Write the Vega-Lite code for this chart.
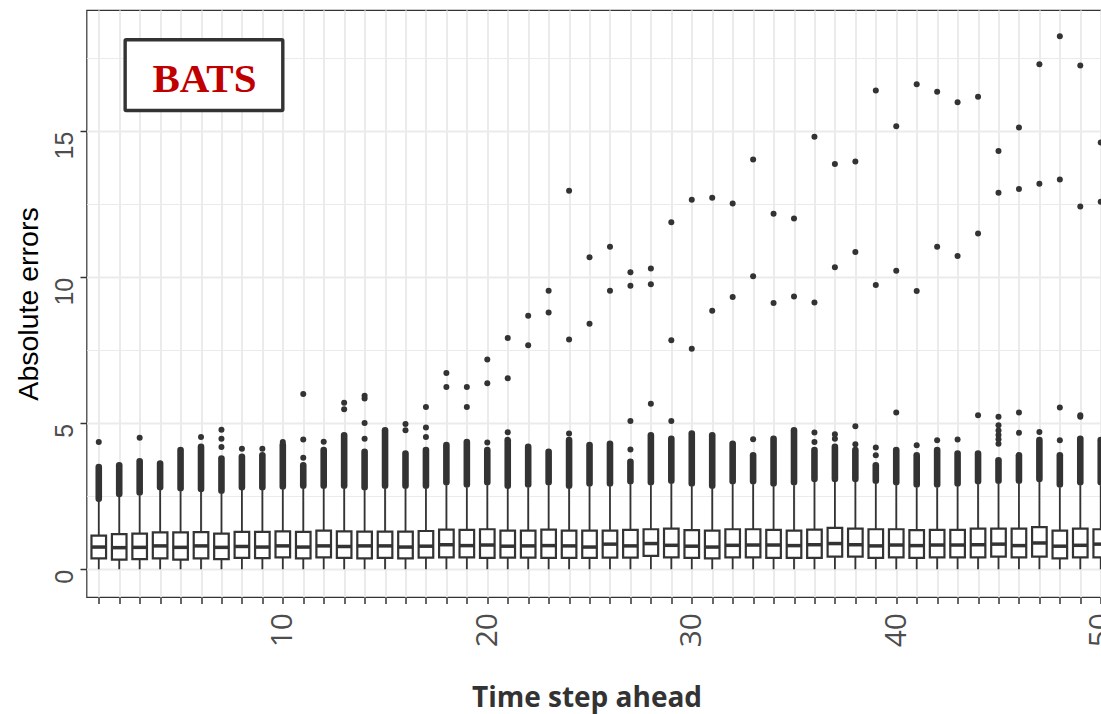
{
  "$schema": "https://vega.github.io/schema/vega-lite/v6.json",
  "autosize": {"type": "none"},
  "padding": {"left": 86.5, "top": 10, "right": -12, "bottom": 117},
  "width": 1026.5,
  "height": 587,
  "background": "white",
  "config": {
    "view": {"stroke": "#333333", "strokeWidth": 1.2},
    "scale": {"continuousPadding": 0}
  },
  "datasets": {
    "boxes": [
      {"step":1,"q1":0.37,"median":0.76,"q3":1.15,"lo":0,"hi":2.31,"olo":2.41,"ohi":3.50},
      {"step":2,"q1":0.33,"median":0.74,"q3":1.20,"lo":0,"hi":2.48,"olo":2.58,"ohi":3.56},
      {"step":3,"q1":0.35,"median":0.75,"q3":1.22,"lo":0,"hi":2.53,"olo":2.63,"ohi":3.70},
      {"step":4,"q1":0.37,"median":0.80,"q3":1.26,"lo":0,"hi":2.71,"olo":2.81,"ohi":3.62},
      {"step":5,"q1":0.33,"median":0.75,"q3":1.26,"lo":0,"hi":2.67,"olo":2.77,"ohi":4.08},
      {"step":6,"q1":0.37,"median":0.80,"q3":1.27,"lo":0,"hi":2.65,"olo":2.75,"ohi":4.19},
      {"step":7,"q1":0.35,"median":0.75,"q3":1.22,"lo":0,"hi":2.59,"olo":2.69,"ohi":3.79},
      {"step":8,"q1":0.39,"median":0.78,"q3":1.28,"lo":0,"hi":2.71,"olo":2.81,"ohi":3.85},
      {"step":9,"q1":0.38,"median":0.76,"q3":1.28,"lo":0,"hi":2.71,"olo":2.81,"ohi":3.90},
      {"step":10,"q1":0.41,"median":0.80,"q3":1.30,"lo":0,"hi":2.73,"olo":2.83,"ohi":4.25},
      {"step":11,"q1":0.37,"median":0.76,"q3":1.28,"lo":0,"hi":2.76,"olo":2.86,"ohi":3.56},
      {"step":12,"q1":0.41,"median":0.80,"q3":1.32,"lo":0,"hi":2.76,"olo":2.86,"ohi":4.08},
      {"step":13,"q1":0.39,"median":0.78,"q3":1.30,"lo":0,"hi":2.76,"olo":2.86,"ohi":4.59},
      {"step":14,"q1":0.37,"median":0.80,"q3":1.29,"lo":0,"hi":2.71,"olo":2.81,"ohi":4.02},
      {"step":15,"q1":0.39,"median":0.80,"q3":1.29,"lo":0,"hi":2.76,"olo":2.86,"ohi":4.76},
      {"step":16,"q1":0.37,"median":0.76,"q3":1.29,"lo":0,"hi":2.76,"olo":2.86,"ohi":3.96},
      {"step":17,"q1":0.40,"median":0.79,"q3":1.31,"lo":0,"hi":2.76,"olo":2.86,"ohi":4.08},
      {"step":18,"q1":0.41,"median":0.84,"q3":1.36,"lo":0,"hi":2.88,"olo":2.98,"ohi":4.25},
      {"step":19,"q1":0.41,"median":0.81,"q3":1.35,"lo":0,"hi":2.80,"olo":2.90,"ohi":4.36},
      {"step":20,"q1":0.39,"median":0.83,"q3":1.37,"lo":0,"hi":2.88,"olo":2.98,"ohi":4.08},
      {"step":21,"q1":0.40,"median":0.79,"q3":1.32,"lo":0,"hi":2.76,"olo":2.86,"ohi":4.42},
      {"step":22,"q1":0.40,"median":0.80,"q3":1.32,"lo":0,"hi":2.80,"olo":2.90,"ohi":4.19},
      {"step":23,"q1":0.39,"median":0.81,"q3":1.36,"lo":0,"hi":2.88,"olo":2.98,"ohi":4.02},
      {"step":24,"q1":0.39,"median":0.80,"q3":1.32,"lo":0,"hi":2.76,"olo":2.86,"ohi":4.42},
      {"step":25,"q1":0.39,"median":0.76,"q3":1.32,"lo":0,"hi":2.84,"olo":2.94,"ohi":4.25},
      {"step":26,"q1":0.40,"median":0.86,"q3":1.32,"lo":0,"hi":2.84,"olo":2.94,"ohi":4.30},
      {"step":27,"q1":0.40,"median":0.80,"q3":1.35,"lo":0,"hi":2.91,"olo":3.01,"ohi":3.68},
      {"step":28,"q1":0.46,"median":0.88,"q3":1.37,"lo":0,"hi":2.88,"olo":2.98,"ohi":4.59},
      {"step":29,"q1":0.41,"median":0.82,"q3":1.39,"lo":0,"hi":2.93,"olo":3.03,"ohi":4.47},
      {"step":30,"q1":0.39,"median":0.79,"q3":1.34,"lo":0,"hi":2.84,"olo":2.94,"ohi":4.65},
      {"step":31,"q1":0.37,"median":0.76,"q3":1.32,"lo":0,"hi":2.76,"olo":2.86,"ohi":4.59},
      {"step":32,"q1":0.41,"median":0.82,"q3":1.37,"lo":0,"hi":2.91,"olo":3.01,"ohi":4.30},
      {"step":33,"q1":0.41,"median":0.83,"q3":1.37,"lo":0,"hi":2.91,"olo":3.01,"ohi":3.90},
      {"step":34,"q1":0.39,"median":0.83,"q3":1.35,"lo":0,"hi":2.84,"olo":2.94,"ohi":4.47},
      {"step":35,"q1":0.39,"median":0.81,"q3":1.32,"lo":0,"hi":2.88,"olo":2.98,"ohi":4.76},
      {"step":36,"q1":0.39,"median":0.84,"q3":1.36,"lo":0,"hi":2.99,"olo":3.09,"ohi":4.08},
      {"step":37,"q1":0.43,"median":0.88,"q3":1.42,"lo":0,"hi":2.99,"olo":3.09,"ohi":4.19},
      {"step":38,"q1":0.43,"median":0.84,"q3":1.39,"lo":0,"hi":2.99,"olo":3.09,"ohi":4.08},
      {"step":39,"q1":0.39,"median":0.80,"q3":1.37,"lo":0,"hi":2.93,"olo":3.03,"ohi":3.56},
      {"step":40,"q1":0.41,"median":0.83,"q3":1.37,"lo":0,"hi":2.88,"olo":2.98,"ohi":4.08},
      {"step":41,"q1":0.39,"median":0.81,"q3":1.34,"lo":0,"hi":2.80,"olo":2.90,"ohi":3.90},
      {"step":42,"q1":0.41,"median":0.83,"q3":1.35,"lo":0,"hi":2.80,"olo":2.90,"ohi":4.08},
      {"step":43,"q1":0.41,"median":0.83,"q3":1.35,"lo":0,"hi":2.84,"olo":2.94,"ohi":3.96},
      {"step":44,"q1":0.41,"median":0.84,"q3":1.39,"lo":0,"hi":2.91,"olo":3.01,"ohi":3.96},
      {"step":45,"q1":0.43,"median":0.86,"q3":1.39,"lo":0,"hi":2.93,"olo":3.03,"ohi":3.73},
      {"step":46,"q1":0.41,"median":0.81,"q3":1.39,"lo":0,"hi":2.93,"olo":3.03,"ohi":3.90},
      {"step":47,"q1":0.43,"median":0.90,"q3":1.44,"lo":0,"hi":2.99,"olo":3.09,"ohi":4.42},
      {"step":48,"q1":0.37,"median":0.79,"q3":1.32,"lo":0,"hi":2.80,"olo":2.90,"ohi":3.90},
      {"step":49,"q1":0.41,"median":0.82,"q3":1.39,"lo":0,"hi":2.88,"olo":2.98,"ohi":4.47},
      {"step":50,"q1":0.41,"median":0.86,"q3":1.37,"lo":0,"hi":2.88,"olo":2.98,"ohi":4.42}
    ],
    "outliers": [
      {"step":1,"value":4.36},
      {"step":3,"value":4.50},
      {"step":6,"value":4.53},
      {"step":7,"value":4.19},{"step":7,"value":4.47},{"step":7,"value":4.78},
      {"step":8,"value":4.13},
      {"step":9,"value":4.13},
      {"step":10,"value":4.36},
      {"step":11,"value":3.82},{"step":11,"value":4.44},{"step":11,"value":6.00},
      {"step":12,"value":4.37},
      {"step":13,"value":5.48},{"step":13,"value":5.70},
      {"step":14,"value":4.47},{"step":14,"value":5.01},{"step":14,"value":5.85},{"step":14,"value":5.94},
      {"step":16,"value":4.76},{"step":16,"value":4.97},
      {"step":17,"value":4.53},{"step":17,"value":4.85},{"step":17,"value":5.56},
      {"step":18,"value":6.24},{"step":18,"value":6.72},
      {"step":19,"value":5.56},{"step":19,"value":6.24},
      {"step":20,"value":4.34},{"step":20,"value":6.37},{"step":20,"value":7.18},
      {"step":21,"value":4.69},{"step":21,"value":6.54},{"step":21,"value":7.92},
      {"step":22,"value":7.67},{"step":22,"value":8.68},
      {"step":23,"value":8.79},{"step":23,"value":9.54},
      {"step":24,"value":4.65},{"step":24,"value":7.87},{"step":24,"value":12.96},
      {"step":25,"value":8.41},{"step":25,"value":10.68},
      {"step":26,"value":9.54},{"step":26,"value":11.04},
      {"step":27,"value":4.10},{"step":27,"value":5.08},{"step":27,"value":9.71},{"step":27,"value":10.17},
      {"step":28,"value":5.67},{"step":28,"value":9.76},{"step":28,"value":10.30},
      {"step":29,"value":5.08},{"step":29,"value":7.84},{"step":29,"value":11.88},
      {"step":30,"value":7.55},{"step":30,"value":12.65},
      {"step":31,"value":8.85},{"step":31,"value":12.72},
      {"step":32,"value":9.32},{"step":32,"value":12.52},
      {"step":33,"value":4.45},{"step":33,"value":10.03},{"step":33,"value":14.03},
      {"step":34,"value":9.12},{"step":34,"value":12.17},
      {"step":35,"value":9.34},{"step":35,"value":12.01},
      {"step":36,"value":4.36},{"step":36,"value":4.68},{"step":36,"value":9.13},{"step":36,"value":14.81},
      {"step":37,"value":4.47},{"step":37,"value":4.62},{"step":37,"value":10.34},{"step":37,"value":13.88},
      {"step":38,"value":4.28},{"step":38,"value":4.90},{"step":38,"value":10.86},{"step":38,"value":13.96},
      {"step":39,"value":3.90},{"step":39,"value":4.17},{"step":39,"value":9.73},{"step":39,"value":16.39},
      {"step":40,"value":5.37},{"step":40,"value":10.22},{"step":40,"value":15.17},
      {"step":41,"value":4.25},{"step":41,"value":9.53},{"step":41,"value":16.61},
      {"step":42,"value":4.42},{"step":42,"value":11.04},{"step":42,"value":16.35},
      {"step":43,"value":4.44},{"step":43,"value":10.73},{"step":43,"value":15.99},
      {"step":44,"value":5.27},{"step":44,"value":11.50},{"step":44,"value":16.18},
      {"step":45,"value":4.30},{"step":45,"value":4.45},{"step":45,"value":4.60},{"step":45,"value":4.75},{"step":45,"value":4.93},{"step":45,"value":5.22},{"step":45,"value":12.89},{"step":45,"value":14.32},
      {"step":46,"value":4.67},{"step":46,"value":5.37},{"step":46,"value":13.02},{"step":46,"value":15.13},
      {"step":47,"value":4.70},{"step":47,"value":13.20},{"step":47,"value":17.29},
      {"step":48,"value":4.42},{"step":48,"value":5.54},{"step":48,"value":13.35},{"step":48,"value":18.25},
      {"step":49,"value":5.22},{"step":49,"value":5.27},{"step":49,"value":12.42},{"step":49,"value":17.25},
      {"step":50,"value":12.58},{"step":50,"value":14.61}
    ]
  },
  "resolve": {"axis": {"y": "independent"}},
  "layer": [
    {
      "data": {"name": "boxes"},
      "mark": {"type": "rule", "color": "#333333", "strokeWidth": 1.8},
      "encoding": {
        "x": {
          "field": "step", "type": "quantitative",
          "scale": {"domain": [0.4, 50.6], "nice": false, "zero": false, "padding": 0},
          "axis": {
            "values": [1,2,3,4,5,6,7,8,9,10,11,12,13,14,15,16,17,18,19,20,21,22,23,24,25,26,27,28,29,30,31,32,33,34,35,36,37,38,39,40,41,42,43,44,45,46,47,48,49,50],
            "tickCount": 100,
            "format": "d",
            "labelExpr": "datum.value % 10 === 0 ? '' + datum.value : ''",
            "labelOverlap": false, "labelFlush": false, "labelBound": false,
            "labelAngle": 270, "labelAlign": "right", "labelBaseline": "middle",
            "labelPadding": 9, "labelFont": "Open Sans", "labelFontSize": 30, "labelColor": "#4D4D4D",
            "tickSize": 6.5, "tickColor": "#333333", "tickWidth": 1.5,
            "grid": true, "gridColor": "#EBEBEB", "gridWidth": 2,
            "domain": false,
            "title": "Time step ahead", "titleFont": "Open Sans", "titleFontWeight": "bold",
            "titleFontSize": 28, "titleColor": "#333333",
            "titleX": 500, "titleY": 109, "titleAlign": "center", "titleBaseline": "alphabetic", "titleAnchor": null
          }
        },
        "y": {
          "field": "lo", "type": "quantitative",
          "scale": {"domain": [-0.95, 19.15], "nice": false, "zero": false},
          "axis": {
            "orient": "left",
            "values": [0, 5, 10, 15],
            "labelAngle": 270, "labelAlign": "right", "labelBaseline": "alphabetic",
            "labelPadding": 7.5, "labelFont": "Liberation Sans", "labelFontSize": 25, "labelColor": "#4D4D4D",
            "tickSize": 6.5, "tickColor": "#333333", "tickWidth": 1.5,
            "grid": true, "gridColor": "#EBEBEB", "gridWidth": 2,
            "domain": false,
            "title": "Absolute errors", "titleFont": "Liberation Sans", "titleFontWeight": "normal",
            "titleFontSize": 28.5, "titleColor": "#000000", "titleAngle": 270,
            "titleX": -49, "titleY": 293.5, "titleAlign": "center", "titleBaseline": "alphabetic"
          }
        },
        "y2": {"field": "hi"}
      }
    },
    {
      "data": {"name": "boxes"},
      "mark": {"type": "rule", "color": "#333333", "strokeWidth": 6.6, "strokeCap": "round"},
      "encoding": {
        "x": {"field": "step", "type": "quantitative"},
        "y": {
          "field": "olo", "type": "quantitative",
          "axis": {
            "orient": "left", "values": [2.5, 7.5, 12.5, 17.5],
            "labels": false, "ticks": false, "domain": false, "title": null,
            "grid": true, "gridColor": "#EBEBEB", "gridWidth": 1, "zindex": 0
          }
        },
        "y2": {"field": "ohi"}
      }
    },
    {
      "data": {"name": "boxes"},
      "mark": {"type": "bar", "fill": "white", "stroke": "#333333", "strokeWidth": 2.2, "size": 14.6, "opacity": 1},
      "encoding": {
        "x": {"field": "step", "type": "quantitative"},
        "y": {"field": "q1", "type": "quantitative", "axis": null},
        "y2": {"field": "q3"}
      }
    },
    {
      "data": {"name": "boxes"},
      "mark": {"type": "tick", "orient": "horizontal", "color": "#333333", "opacity": 1, "thickness": 3.5, "size": 15.5},
      "encoding": {
        "x": {"field": "step", "type": "quantitative"},
        "y": {"field": "median", "type": "quantitative", "axis": null}
      }
    },
    {
      "data": {"name": "outliers"},
      "mark": {"type": "point", "filled": true, "color": "#333333", "opacity": 1, "size": 36, "strokeWidth": 0},
      "encoding": {
        "x": {"field": "step", "type": "quantitative"},
        "y": {"field": "value", "type": "quantitative", "axis": null}
      }
    },
    {
      "data": {"values": [{"label": "BATS"}]},
      "mark": {"type": "rect", "fill": "white", "stroke": "#333333", "strokeWidth": 3.4, "cornerRadius": 1},
      "encoding": {
        "x": {"datum": 2.29, "type": "quantitative"},
        "x2": {"datum": 10.0},
        "y": {"datum": 15.71, "type": "quantitative", "axis": null},
        "y2": {"datum": 18.13}
      }
    },
    {
      "data": {"values": [{"label": "BATS"}]},
      "mark": {"type": "text", "font": "Liberation Serif", "fontWeight": "bold", "fontSize": 41, "color": "#C00000", "align": "center", "baseline": "alphabetic"},
      "encoding": {
        "x": {"datum": 6.17, "type": "quantitative"},
        "y": {"datum": 16.33, "type": "quantitative", "axis": null},
        "text": {"field": "label"}
      }
    }
  ]
}
